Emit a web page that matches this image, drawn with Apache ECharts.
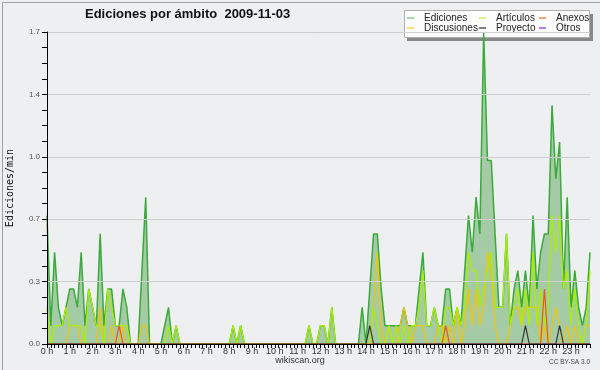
<!DOCTYPE html>
<html>
<head>
<meta charset="utf-8">
<script src="https://cdn.jsdelivr.net/npm/echarts@6/dist/echarts.min.js"></script>
<style>
html,body{margin:0;padding:0;background:#eeeff1;}
#c{width:600px;height:370px;}
</style>
</head>
<body>
<div id="c"></div>
<script>
// 10-minute slots over the day (144 points)
const categories = [];
for (let h = 0; h < 24; h++) for (let m = 0; m < 60; m += 10) categories.push(String(h).padStart(2,'0') + ':' + String(m).padStart(2,'0'));
const hourLabels = ['0 h','1 h','2 h','3 h','4 h','5 h','6 h','7 h','8 h','9 h','10 h','11 h','12 h','13 h','14 h','15 h','16 h','17 h','18 h','19 h','20 h','21 h','22 h','23 h'];
const yTicks = [0, 0.34, 0.68, 1.02, 1.36, 1.7];

const ediciones = [
  0.7,0.1,0.5,0.2,0.1,0.2,  0.3,0.3,0.2,0.5,0.1,0.3,  0.2,0.1,0.6,0.1,0.3,0.3,  0.1,0.1,0.3,0.2,0,0,
  0,0.4,0.8,0,0,0,  0,0.1,0.2,0,0.1,0,  0,0,0,0,0,0,  0,0,0,0,0,0,
  0,0.1,0,0.1,0,0,  0,0,0,0,0,0,  0,0,0,0,0,0,  0,0,0,0.1,0,0,
  0.1,0.1,0,0.2,0,0,  0,0,0,0,0,0.2,  0,0.3,0.6,0.6,0.3,0.1,  0.1,0.1,0.1,0.1,0.2,0.1,
  0.1,0.1,0.3,0.5,0.1,0.1,  0.2,0.1,0.1,0.3,0.3,0.1,  0.2,0.1,0.4,0.7,0.5,0.8,  0.6,1.7,1.0,1.0,0.6,0.2,
  0.2,0.6,0.1,0.3,0.4,0.2,  0.4,0.2,0.7,0.3,0.5,0.6,  0.6,1.3,0.9,1.1,0.3,0.8,  0.2,0.4,0.2,0.1,0.2,0.5
];
const articulos = [
  0.2,0,0.1,0.1,0.1,0.2,  0.1,0.1,0.1,0.1,0,0.3,  0.2,0.1,0.1,0,0.3,0.2,  0.1,0.1,0.1,0.1,0,0,
  0,0,0,0,0,0,  0,0,0.1,0,0.1,0,  0,0,0,0,0,0,  0,0,0,0,0,0,
  0,0.1,0,0.1,0,0,  0,0,0,0,0,0,  0,0,0,0,0,0,  0,0,0,0.1,0,0,
  0.1,0.1,0,0.2,0,0,  0,0,0,0,0,0,  0,0,0.2,0.1,0,0,  0.1,0,0.1,0,0.1,0,
  0.1,0.1,0.2,0.4,0.1,0.1,  0.2,0.1,0,0.2,0.2,0.1,  0.2,0.1,0.2,0.5,0.4,0.4,  0.2,0.3,0.4,0.5,0.2,0.2,
  0.2,0.6,0.1,0.2,0.3,0.1,  0.3,0.1,0.5,0.1,0.3,0.1,  0.2,0.7,0.5,0.7,0.3,0.4,  0.1,0.3,0.1,0,0.1,0.4
];
const discusiones = [
  0,0,0,0,0,0,  0.1,0.1,0.1,0,0,0,  0,0,0.2,0,0,0.1,  0,0,0.1,0,0,0,
  0,0.1,0.1,0,0,0,  0,0,0,0,0,0,  0,0,0,0,0,0,  0,0,0,0,0,0,
  0,0,0,0,0,0,  0,0,0,0,0,0,  0,0,0,0,0,0,  0,0,0,0,0,0,
  0,0,0,0,0,0,  0,0,0,0,0,0,  0,0,0.2,0.5,0.1,0,  0.1,0,0,0.1,0.2,0.1,
  0,0.1,0.1,0.1,0,0,  0,0.1,0.1,0,0.1,0,  0.2,0,0.1,0.3,0.1,0.3,  0.1,0.2,0.5,0.4,0.1,0,
  0,0,0.1,0.2,0.2,0.1,  0.2,0.2,0.2,0.2,0,0.1,  0,0.1,0.2,0.1,0,0.1,  0,0.1,0,0,0.1,0.1
];
const anexos = new Array(144).fill(0);
anexos[19] = 0.1; anexos[105] = 0.1; anexos[131] = 0.3;
const proyecto = new Array(144).fill(0);
proyecto[85] = 0.1; proyecto[126] = 0.1; proyecto[135] = 0.1;
const otros = new Array(144).fill(0);

const chart = echarts.init(document.getElementById('c'), null, {renderer: 'canvas'});
const FONT = 'Liberation Sans';

function lineSeries(name, data, color, width, z) {
  return {
    name, type: 'line', data, symbol: 'none', z,
    lineStyle: {color, width}, itemStyle: {color},
    emphasis: {disabled: true}, animation: false
  };
}

const legendBase = {
  orient: 'vertical', padding: 0, top: 13, itemGap: 0,
  icon: 'rect', itemWidth: 7, itemHeight: 1.5,
  textStyle: {fontFamily: FONT, fontSize: 10, color: '#222', padding: [0,0,0,5]},
  selectedMode: false
};

chart.setOption({
  backgroundColor: '#eeeff1',
  animation: false,
  title: {
    text: 'Ediciones por ámbito  2009-11-03', left: 85, top: 8, padding: 0,
    textStyle: {fontFamily: FONT, fontSize: 13, fontWeight: 'bold', color: '#111'}
  },
  graphic: [
    {type: 'rect', left: 0, top: 0, shape: {x: 0.5, y: 0.5, width: 599, height: 369}, style: {fill: 'none', stroke: '#a0a0a0', lineWidth: 1}, silent: true},
    {type: 'rect', shape: {x: 407, y: 14, width: 186, height: 27}, style: {fill: '#888'}, z: 1, silent: true},
    {type: 'rect', shape: {x: 404.5, y: 10.5, width: 185, height: 27}, style: {fill: '#fcfcfc', stroke: '#b0b0b0', lineWidth: 1}, z: 2, silent: true},
    {type: 'text', x: 10, y: 188, rotation: Math.PI / 2,
      style: {text: 'Ediciones/min', fontFamily: 'DejaVu Sans Mono', fontSize: 10, fill: '#111', textAlign: 'center', textVerticalAlign: 'middle'}, silent: true},
    {type: 'text', x: 300, y: 361, style: {text: 'wikiscan.org', fontFamily: FONT, fontSize: 9, fill: '#333', textAlign: 'center', textVerticalAlign: 'middle'}, silent: true},
    {type: 'text', x: 590, y: 362, style: {text: 'CC BY-SA 3.0', fontFamily: FONT, fontSize: 6.5, fill: '#444', textAlign: 'right', textVerticalAlign: 'middle'}, silent: true}
  ],
  legend: [
    Object.assign({}, legendBase, {left: 407, data: [
      {name: 'Ediciones', itemStyle: {color: '#88cc88'}},
      {name: 'Discusiones', itemStyle: {color: '#ffd855'}}]}),
    Object.assign({}, legendBase, {left: 479, data: [
      {name: 'Artículos', itemStyle: {color: '#ccee66'}},
      {name: 'Proyecto', itemStyle: {color: '#555555'}}]}),
    Object.assign({}, legendBase, {left: 539, data: [
      {name: 'Anexos', itemStyle: {color: '#ee8855'}},
      {name: 'Otros', itemStyle: {color: '#9955ee'}}]})
  ],
  grid: {left: 47, right: 10, top: 32, bottom: 26, containLabel: false},
  xAxis: {
    type: 'category', data: categories, boundaryGap: false, z: 10,
    axisLine: {lineStyle: {color: '#000', width: 1}},
    axisTick: {show: true, interval: 0, length: 4, lineStyle: {color: '#000'}},
    axisLabel: {
      interval: (idx) => idx % 6 === 0,
      formatter: (v, idx) => hourLabels[Math.floor(idx / 6)],
      fontFamily: FONT, fontSize: 9, color: '#333', margin: 3
    },
    splitLine: {show: false}
  },
  yAxis: {
    type: 'value', min: yTicks[0], max: yTicks[yTicks.length - 1], interval: yTicks[1], z: 10,
    axisLine: {show: true, lineStyle: {color: '#000', width: 1}},
    axisTick: {show: true, length: 5, lineStyle: {color: '#000'}},
    minorTick: {show: true, splitNumber: 4, length: 5, lineStyle: {color: '#000'}},
    axisLabel: {formatter: (v) => v.toFixed(1), fontFamily: FONT, fontSize: 8, color: '#555', margin: 7},
    splitLine: {show: true, lineStyle: {color: '#cfcfcf', width: 1}}
  },
  series: [
    Object.assign(lineSeries('Ediciones', ediciones, '#3aaa3a', 1.5, 2), {areaStyle: {color: '#4aa04a', opacity: 0.45}}),
    lineSeries('Discusiones', discusiones, '#f5c400', 1.2, 4),
    lineSeries('Artículos', articulos, '#aaee00', 1.3, 5),
    lineSeries('Anexos', anexos, '#ee5511', 1.2, 6),
    lineSeries('Proyecto', proyecto, '#333333', 1.2, 7),
    lineSeries('Otros', otros, '#8844ee', 1.2, 3)
  ]
});
</script>
</body>
</html>
